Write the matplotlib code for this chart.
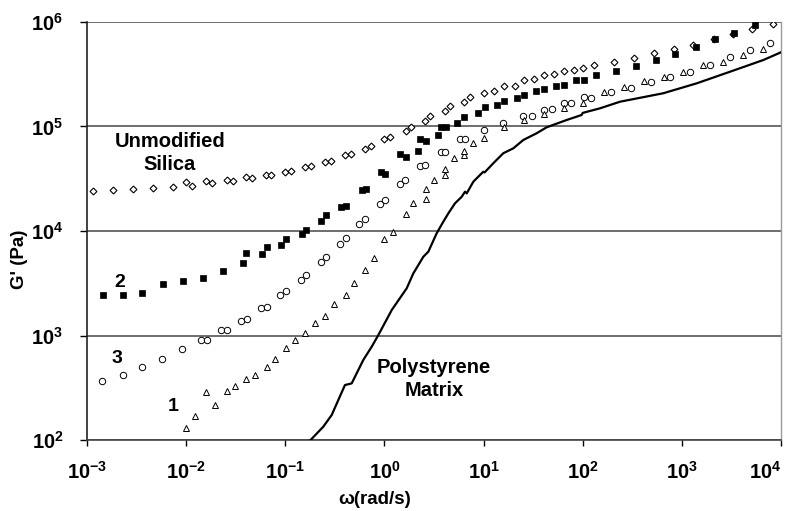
import numpy as np
import matplotlib
matplotlib.use("Agg")
import matplotlib.pyplot as plt

plt.rcParams['font.family'] = ['Liberation Sans', 'DejaVu Sans']
plt.rcParams['font.weight'] = 'bold'
plt.rcParams['mathtext.fontset'] = 'custom'
plt.rcParams['mathtext.rm'] = 'Liberation Sans:bold'
plt.rcParams['mathtext.bf'] = 'Liberation Sans:bold'
plt.rcParams['mathtext.default'] = 'rm'

# valores, em log10(omega), log10(G')
silica_pura = [(-2.936, 4.386), (-2.741, 4.392), (-2.533, 4.402), (-2.337, 4.411), (-2.136, 4.418),
               (-2.001, 4.469), (-1.938, 4.431), (-1.80, 4.481), (-1.739, 4.462), (-1.591, 4.485),
               (-1.530, 4.478), (-1.396, 4.514), (-1.336, 4.504), (-1.194, 4.539), (-1.141, 4.539),
               (-1.0, 4.568), (-0.939, 4.574), (-0.804, 4.615), (-0.737, 4.622), (-0.596, 4.657),
               (-0.536, 4.670), (-0.398, 4.724), (-0.337, 4.740), (-0.196, 4.788), (-0.135, 4.816),
               (-0.001, 4.877), (0.06, 4.902), (0.215, 4.960), (0.268, 4.998), (0.409, 5.053),
               (0.463, 5.103), (0.611, 5.145), (0.664, 5.196), (0.799, 5.237), (0.860, 5.279),
               (1.001, 5.318), (1.108, 5.337), (1.209, 5.385), (1.317, 5.390), (1.411, 5.445),
               (1.505, 5.452), (1.613, 5.490), (1.707, 5.500), (1.808, 5.534), (1.915, 5.541),
               (2.003, 5.563), (2.111, 5.586), (2.313, 5.617), (2.514, 5.658), (2.716, 5.706),
               (2.918, 5.742), (3.112, 5.783), (3.321, 5.834), (3.516, 5.882), (3.711, 5.930),
               (3.920, 5.981)]

amostra_2 = [(-2.836, 3.388), (-2.634, 3.388), (-2.442, 3.407), (-2.230, 3.490), (-2.035, 3.525),
             (-1.833, 3.553), (-1.632, 3.617), (-1.430, 3.690), (-1.396, 3.792), (-1.238, 3.780),
             (-1.187, 3.850), (-1.040, 3.869), (-0.990, 3.926), (-0.835, 3.971), (-0.791, 4.013),
             (-0.643, 4.096), (-0.592, 4.150), (-0.440, 4.228), (-0.391, 4.242), (-0.223, 4.389),
             (-0.183, 4.399), (-0.035, 4.565), (0.006, 4.545), (0.160, 4.740), (0.215, 4.705),
             (0.342, 4.768), (0.362, 4.883), (0.417, 4.858), (0.538, 4.916), (0.571, 4.998),
             (0.618, 4.992), (0.732, 5.031), (0.806, 5.094), (0.941, 5.126), (1.015, 5.184),
             (1.136, 5.203), (1.203, 5.247), (1.338, 5.273), (1.405, 5.304), (1.533, 5.343),
             (1.607, 5.356), (1.735, 5.390), (1.816, 5.397), (1.937, 5.445), (2.011, 5.445),
             (2.132, 5.493), (2.340, 5.531), (2.535, 5.582), (2.737, 5.633), (2.931, 5.697),
             (3.140, 5.761), (3.335, 5.834), (3.529, 5.898), (3.738, 5.968)]

amostra_3 = [(-2.846, 2.562), (-2.640, 2.619), (-2.445, 2.696), (-2.243, 2.778), (-2.042, 2.868),
             (-1.847, 2.957), (-1.793, 2.957), (-1.645, 3.050), (-1.591, 3.050), (-1.444, 3.142),
             (-1.389, 3.155), (-1.248, 3.260), (-1.187, 3.276), (-1.053, 3.385), (-0.993, 3.429),
             (-0.845, 3.531), (-0.791, 3.582), (-0.643, 3.700), (-0.589, 3.754), (-0.448, 3.876),
             (-0.387, 3.933), (-0.253, 4.064), (-0.199, 4.115), (-0.045, 4.255), (0.003, 4.300),
             (0.157, 4.447), (0.211, 4.485), (0.359, 4.619), (0.413, 4.632), (0.568, 4.759),
             (0.614, 4.759), (0.762, 4.880), (0.810, 4.880), (1.004, 4.967), (1.199, 5.033),
             (1.401, 5.100), (1.489, 5.100), (1.610, 5.158), (1.690, 5.170), (1.812, 5.222),
             (1.886, 5.222), (2.013, 5.279), (2.081, 5.273), (2.282, 5.330), (2.484, 5.371),
             (2.686, 5.426), (2.881, 5.477), (3.082, 5.524), (3.284, 5.589), (3.486, 5.662),
             (3.688, 5.732), (3.889, 5.802)]

amostra_1 = [(-2.001, 2.118), (-1.911, 2.230), (-1.800, 2.457), (-1.709, 2.332), (-1.591, 2.469),
             (-1.504, 2.517), (-1.396, 2.584), (-1.309, 2.625), (-1.187, 2.701), (-1.107, 2.775),
             (-0.996, 2.878), (-0.902, 2.957), (-0.798, 3.021), (-0.700, 3.123), (-0.596, 3.190),
             (-0.508, 3.298), (-0.391, 3.390), (-0.310, 3.505), (-0.196, 3.630), (-0.108, 3.742),
             (-0.001, 3.921), (0.087, 3.995), (0.215, 4.160), (0.288, 4.265), (0.417, 4.306),
             (0.417, 4.399), (0.497, 4.491), (0.611, 4.533), (0.611, 4.596), (0.699, 4.699),
             (0.800, 4.724), (0.800, 4.766), (0.894, 4.845), (1.008, 4.893), (1.203, 4.995),
             (1.405, 5.065), (1.607, 5.120), (1.808, 5.180), (2.003, 5.225), (2.212, 5.330),
             (2.414, 5.375), (2.615, 5.433), (2.817, 5.477), (3.012, 5.522), (3.213, 5.586),
             (3.415, 5.617), (3.617, 5.681), (3.819, 5.745)]

matriz_ps = [(-0.745, 2.0), (-0.617, 2.127), (-0.532, 2.239), (-0.398, 2.526), (-0.330, 2.542),
             (-0.213, 2.766), (-0.128, 2.893), (-0.061, 3.005), (0.074, 3.244), (0.225, 3.452),
             (0.292, 3.595), (0.393, 3.754), (0.443, 3.802), (0.527, 3.978), (0.594, 4.089),
             (0.645, 4.169), (0.712, 4.265), (0.780, 4.328), (0.813, 4.376), (0.830, 4.360),
             (0.897, 4.472), (0.997, 4.567), (1.010, 4.560), (1.098, 4.648), (1.199, 4.744),
             (1.300, 4.791), (1.401, 4.871), (1.535, 4.935), (1.636, 4.992), (1.838, 5.062),
             (1.989, 5.110), (2.000, 5.130), (2.175, 5.174), (2.376, 5.237), (2.813, 5.318),
             (3.150, 5.413), (3.486, 5.524), (3.822, 5.636), (4.0, 5.71)]

xticks = [1e-3, 1e-2, 1e-1, 1e0, 1e1, 1e2, 1e3, 1e4]
xtick_labels = [r'$10^{-3}$', r'$10^{-2}$', r'$10^{-1}$', r'$10^{0}$', r'$10^{1}$',
                r'$10^{2}$', r'$10^{3}$', r'$10^{4}$']
yticks = [1e2, 1e3, 1e4, 1e5, 1e6]
ytick_labels = [r'$10^{2}$', r'$10^{3}$', r'$10^{4}$', r'$10^{5}$', r'$10^{6}$']


def para_linear(pares):
    a = np.array(pares)
    return np.power(10.0, a[:, 0]), np.power(10.0, a[:, 1])


fig = plt.figure(figsize=(7.9, 5.11), dpi=100)
ax = fig.add_axes([0.1101, 0.1389, 0.8785, 0.8181])

x, y = para_linear(matriz_ps)
ax.plot(x, y, '-', color='black', lw=1.6, zorder=3)

x, y = para_linear(silica_pura)
ax.plot(x, y, 'D', ms=3.5, mfc='white', mec='black', mew=0.8, ls='none', zorder=4)

x, y = para_linear(amostra_2)
ax.plot(x, y, 's', ms=5.0, mfc='black', mec='black', mew=0.5, ls='none', zorder=4)

x, y = para_linear(amostra_3)
ax.plot(x, y, 'o', ms=4.6, mfc='white', mec='black', mew=0.7, ls='none', zorder=4)

x, y = para_linear(amostra_1)
ax.plot(x, y, '^', ms=4.4, mfc='white', mec='black', mew=0.7, ls='none', zorder=5)

ax.set_xscale('log')
ax.set_yscale('log')
ax.set_xlim(1e-3, 1e4)
ax.set_ylim(1e2, 1e6)

ax.set_xticks(xticks)
ax.set_xticklabels(xtick_labels)
ax.set_yticks(yticks)
ax.set_yticklabels(ytick_labels)
ax.minorticks_off()
ax.tick_params(axis='x', direction='out', length=4, width=1, pad=11, labelsize=14.5)
ax.tick_params(axis='y', direction='out', length=5, width=1, pad=12, labelsize=14.5)
# o ultimo rotulo fica encostado a borda direita
ultimo = ax.get_xticklabels()[-1]
ultimo.set_horizontalalignment('right')
ultimo.set_x(1e4)

for v in yticks:
    ax.axhline(v, color='#6e6e6e', lw=1.4, zorder=1)

ax.spines['top'].set_visible(False)
ax.spines['right'].set_color('#9a9a9a')
ax.spines['right'].set_linewidth(1.0)
ax.spines['left'].set_color('#222222')
ax.spines['bottom'].set_color('#444444')
ax.spines['left'].set_linewidth(1.2)
ax.spines['bottom'].set_linewidth(1.2)

ax.set_xlabel('ω(rad/s)', fontsize=13.5, fontweight='bold')
ax.xaxis.set_label_coords(0.415, -0.122)
ax.set_ylabel("G' (Pa)", fontsize=13.5, fontweight='bold')
ax.yaxis.set_label_coords(-0.085, 0.433)

ax.text(0.00687, 5.57e4, 'Unmodified\nSilica', ha='center', va='center', fontsize=14.5,
        fontweight='bold', linespacing=1.3)
ax.text(3.16, 384, 'Polystyrene\nMatrix', ha='center', va='center', fontsize=14.5,
        fontweight='bold', linespacing=1.3)
ax.text(0.00215, 3250, '2', ha='center', va='center', fontsize=14, fontweight='bold')
ax.text(0.00201, 596, '3', ha='center', va='center', fontsize=14, fontweight='bold')
ax.text(0.00736, 207, '1', ha='center', va='center', fontsize=14, fontweight='bold')

fig.savefig('out.png', dpi=100)
